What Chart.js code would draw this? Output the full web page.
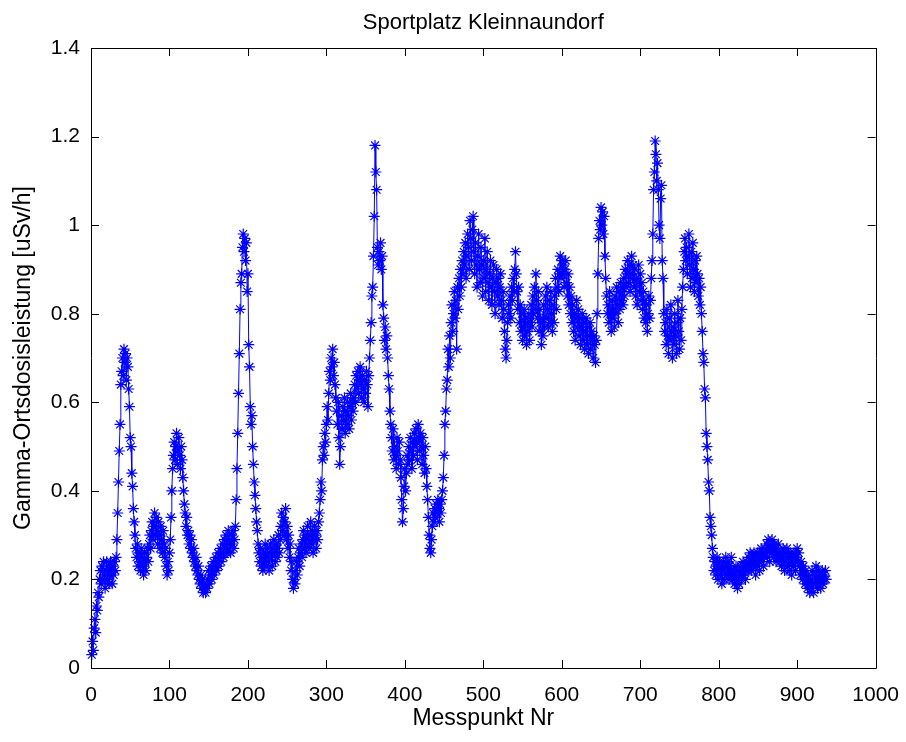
<!DOCTYPE html>
<html>
<head>
<meta charset="utf-8">
<script src="https://cdn.jsdelivr.net/npm/chart.js@4"></script>
<style>
  html, body { margin: 0; padding: 0; background: #fff; }
  canvas { display: block; }
</style>
</head>
<body>
<canvas id="chart" width="906" height="742"></canvas>
<script>
const chartTitle = 'Sportplatz Kleinnaundorf';
const xLabel = 'Messpunkt Nr';
const yLabel = 'Gamma-Ortsdosisleistung [uSv/h]';
const xTicks = [0, 100, 200, 300, 400, 500, 600, 700, 800, 900, 1000];
const xTickLabels = ['0', '100', '200', '300', '400', '500', '600', '700', '800', '900', '1000'];
const yTicks = [0, 0.2, 0.4, 0.6, 0.8, 1.0, 1.2, 1.4];
const yTickLabels = ['0', '0.2', '0.4', '0.6', '0.8', '1', '1.2', '1.4'];

const doseRate = [
  0.03,0.06,0.04,0.09,0.11,0.08,0.14,0.13,0.17,0.16,0.20,
  0.22,0.19,0.23,0.20,0.24,0.21,0.18,0.22,0.24,0.20,0.23,0.19,0.21,0.24,0.22,0.19,0.23,0.21,0.24,0.22,
  0.25,0.29,0.35,0.42,0.49,0.55,
  0.64,0.67,0.70,0.66,0.72,0.69,0.71,0.65,0.70,0.68,0.63,
  0.59,0.52,0.50,0.44,0.41,0.36,0.33,0.30,0.27,
  0.25,0.28,0.23,0.26,0.24,0.22,0.27,0.25,0.23,0.21,0.26,0.24,0.22,0.25,0.27,0.24,
  0.28,0.30,0.27,0.31,0.33,0.29,0.32,0.35,0.30,0.34,0.31,0.28,0.33,0.30,0.27,0.32,0.29,0.26,0.31,0.28,0.25,0.27,
  0.23,0.21,0.24,0.22,0.26,0.29,
  0.34,0.40,0.45,0.48,0.51,0.47,0.50,0.53,0.46,0.49,0.52,0.48,0.45,0.50,0.47,0.43,
  0.40,0.37,0.35,0.32,0.34,0.30,0.31,0.28,0.30,0.27,0.29,0.26,0.25,0.27,0.24,0.23,0.25,0.22,0.21,0.23,
  0.20,0.19,0.21,0.18,0.20,0.17,0.19,0.18,0.17,
  0.19,0.18,0.20,0.22,0.19,0.21,0.23,0.20,0.22,0.24,0.21,0.23,0.25,0.22,0.24,0.26,0.23,0.25,0.27,0.24,
  0.26,0.28,0.25,0.29,0.27,0.30,0.26,0.28,0.31,0.27,0.29,0.26,0.30,0.28,0.31,0.27,0.29,0.32,
  0.38,0.45,0.53,0.62,0.71,0.81,0.87,0.89,0.95,0.98,0.94,0.97,0.92,0.96,0.85,0.89,0.73,
  0.68,0.59,0.55,0.57,0.50,0.46,0.42,0.39,0.36,0.33,0.31,
  0.28,0.26,0.24,0.27,0.23,0.25,0.22,0.26,0.24,0.28,0.23,0.25,0.27,0.24,0.22,0.26,0.28,0.25,0.23,0.27,
  0.29,0.26,0.24,0.28,0.25,0.27,0.30,0.26,0.29,
  0.32,0.35,0.31,0.34,0.30,0.33,0.36,0.29,0.32,0.27,0.30,0.25,0.28,0.22,0.24,0.20,0.18,
  0.20,0.19,0.22,0.24,0.21,0.25,0.27,0.23,0.26,0.28,0.25,0.29,0.31,0.27,0.30,0.26,0.28,0.32,0.29,0.27,
  0.30,0.33,0.28,0.31,0.26,0.29,0.32,0.30,0.27,0.31,0.29,0.33,0.35,
  0.38,0.42,0.40,0.47,0.50,0.48,0.53,0.51,0.55,0.59,0.56,0.62,0.67,0.65,0.70,0.68,0.72,0.66,0.69,0.64,
  0.61,0.58,
  0.55,0.60,0.52,0.46,0.50,0.57,0.54,0.59,0.56,0.61,0.53,0.58,0.55,0.60,0.57,0.54,0.59,0.62,0.56,0.60,
  0.58,
  0.61,0.64,0.60,0.66,0.63,0.67,0.62,0.65,0.68,0.64,0.61,0.66,0.63,0.60,0.65,0.62,0.67,0.64,0.59,0.66,
  0.70,0.74,
  0.78,0.84,0.86,0.93,1.02,1.18,1.12,1.08,0.95,0.91,0.94,
  0.92,0.96,0.90,0.93,0.82,0.79,0.74,0.77,0.72,0.75,0.70,0.66,0.63,0.58,0.55,0.52,0.49,0.54,0.47,
  0.50,0.48,0.45,0.52,0.49,0.46,0.51,0.47,0.43,0.38,0.33,0.36,0.41,0.45,0.40,0.44,0.48,0.46,0.50,0.47,
  0.52,0.49,0.45,0.51,0.48,0.53,0.50,0.54,0.51,0.47,0.55,0.52,0.49,0.53,0.50,0.46,0.52,0.48,0.44,0.50,
  0.45,0.41,0.38,
  0.34,0.30,0.27,0.26,0.29,0.32,0.35,0.33,0.36,0.34,0.37,0.35,0.38,0.36,0.33,0.37,0.35,0.38,0.40,0.43,
  0.48,0.55,
  0.58,0.63,0.65,0.72,0.68,0.75,0.70,0.78,0.82,0.76,0.80,0.85,0.79,0.83,0.72,0.86,0.81,0.88,0.84,0.90,
  0.86,0.92,
  0.89,0.94,0.91,0.96,0.88,0.93,0.98,0.95,0.90,1.01,0.97,0.92,0.99,1.02,0.94,0.89,0.96,0.91,0.86,0.93,
  0.98,0.90,0.87,0.95,0.91,0.84,0.92,0.88,0.97,0.85,0.90,0.94,0.87,0.83,0.89,0.92,0.86,0.82,0.88,0.91,
  0.85,0.80,0.87,0.90,0.84,0.88,0.82,0.86,0.89,0.83,0.79,0.85,0.81,0.76,
  0.72,0.70,0.74,0.78,0.82,0.80,0.84,0.79,0.86,0.83,0.88,0.85,0.90,0.94,0.89,0.85,0.81,0.86,0.78,0.82,
  0.76,0.80,0.74,0.77,0.81,0.75,0.79,0.73,0.78,
  0.76,0.80,0.74,0.78,0.82,0.77,0.84,0.80,0.86,0.81,0.89,0.83,0.79,0.85,0.76,0.81,0.78,0.73,0.79,0.75,
  0.82,0.77,0.84,0.79,0.86,0.81,0.77,0.83,0.78,0.85,0.80,0.76,0.82,0.78,0.84,0.88,0.81,0.86,0.90,0.85,
  0.89,
  0.93,0.88,0.92,0.89,0.91,0.86,0.90,0.92,0.87,0.84,0.89,0.82,0.86,0.80,0.84,
  0.78,0.82,0.76,0.80,0.74,0.79,0.83,0.77,0.81,0.75,0.79,0.73,0.77,0.80,0.74,0.78,0.72,0.76,0.79,0.73,
  0.77,0.71,0.75,0.78,0.72,0.76,0.74,0.70,0.75,0.73,0.69,0.74,0.80,
  0.89,0.97,1.01,0.99,1.04,1.00,1.03,0.98,1.02,0.93,0.88,0.84,0.80,
  0.82,0.78,0.85,0.80,0.76,0.83,0.79,0.81,0.77,0.84,0.80,0.86,0.82,0.78,0.85,0.81,0.87,0.83,
  0.86,0.82,0.88,0.84,0.90,0.86,0.89,0.92,0.87,0.91,0.85,0.89,0.93,0.88,0.91,0.86,0.90,0.84,0.88,0.82,
  0.87,0.91,0.85,0.89,0.83,0.87,0.81,0.85,0.79,
  0.83,0.78,0.82,0.76,0.80,0.84,0.79,0.83,0.88,
  0.92,0.98,1.08,1.12,1.19,1.16,1.10,1.14,1.08,1.00,0.97,1.06,1.09,0.92,0.88,0.80,0.76,
  0.78,0.73,0.81,0.75,0.71,0.79,0.74,0.82,0.76,0.70,0.77,0.73,0.80,0.75,0.71,0.78,0.83,0.76,0.72,0.79,
  0.74,0.81,0.86,0.90,0.94,
  0.97,0.92,0.95,0.89,0.93,0.98,0.91,0.86,0.94,0.88,0.96,0.90,0.85,0.92,0.87,0.93,0.89,0.84,0.88,0.82,
  0.86,
  0.80,0.76,0.71,0.69,0.63,0.61,0.53,0.50,0.47,0.42,0.40,0.34,0.32,0.30,0.27,0.25,
  0.22,0.24,0.21,0.23,0.25,0.20,0.22,0.24,0.21,0.23,0.19,0.22,0.24,0.20,0.23,0.25,0.21,0.22,0.24,0.20,
  0.23,0.21,0.25,0.22,
  0.20,0.22,0.19,0.21,0.23,0.20,0.18,0.22,0.19,0.21,0.23,0.20,0.22,0.24,0.21,0.23,0.20,0.22,
  0.24,0.22,0.25,0.23,0.26,0.24,0.22,0.25,0.23,0.26,0.24,0.21,0.25,0.23,0.26,0.24,0.22,0.25,0.27,0.24,
  0.26,0.23,0.25,0.27,
  0.26,0.28,0.25,0.29,0.27,0.24,0.28,0.26,0.29,0.27,0.25,0.28,0.26,0.24,0.27,0.25,0.28,0.26,
  0.24,0.26,0.23,0.25,0.27,0.24,0.22,0.26,0.24,0.27,0.23,0.25,0.22,0.26,0.24,0.21,0.25,0.23,0.26,0.24,
  0.22,0.25,0.27,0.24,0.26,
  0.23,0.21,0.24,0.22,0.20,0.23,0.21,0.19,0.22,0.20,0.18,0.21,0.19,0.17,
  0.20,0.18,0.22,0.19,0.17,0.21,0.19,0.23,0.20,0.18,0.22,0.19,0.21,0.18,0.20,0.22,0.19,0.21,0.20,0.22,
  0.20
];

const points = doseRate.map((v, i) => ({ x: i + 1, y: v }));

const fontFamily = '"Liberation Sans", Arial, Helvetica, sans-serif';
Chart.defaults.font.family = fontFamily;
Chart.defaults.color = '#000';

// Rahmen, nach innen zeigende Ticks und Titel über der Achse wie in MATLAB
const matlabAxes = {
  id: 'matlabAxes',
  afterDatasetsDraw(chart) {
    const { ctx, chartArea: a, scales: { x, y } } = chart;
    const len = 8;
    ctx.save();
    ctx.strokeStyle = '#000';
    ctx.lineWidth = 1;
    ctx.beginPath();
    ctx.rect(Math.round(a.left) + 0.5, Math.round(a.top) + 0.5,
      Math.round(a.right - a.left), Math.round(a.bottom - a.top));
    xTicks.forEach(v => {
      const px = Math.round(x.getPixelForValue(v)) + 0.5;
      ctx.moveTo(px, a.bottom); ctx.lineTo(px, a.bottom - len);
      ctx.moveTo(px, a.top); ctx.lineTo(px, a.top + len);
    });
    yTicks.forEach(v => {
      const py = Math.round(y.getPixelForValue(v)) + 0.5;
      ctx.moveTo(a.left, py); ctx.lineTo(a.left + len, py);
      ctx.moveTo(a.right, py); ctx.lineTo(a.right - len, py);
    });
    ctx.stroke();

    ctx.fillStyle = '#000';
    ctx.font = '22px ' + fontFamily;
    ctx.textAlign = 'center';
    ctx.textBaseline = 'middle';
    ctx.fillText(chartTitle, (a.left + a.right) / 2, 23);
    ctx.restore();
  }
};

new Chart(document.getElementById('chart'), {
  type: 'line',
  data: {
    datasets: [{
      data: points,
      borderColor: '#0000ff',
      borderWidth: 1,
      backgroundColor: '#0000ff',
      pointStyle: 'star',
      pointRadius: 5.5,
      pointBorderWidth: 1.2,
      pointBorderColor: '#0000ff',
      tension: 0,
      clip: 6
    }]
  },
  options: {
    responsive: false,
    animation: false,
    devicePixelRatio: 1,
    layout: { padding: { left: 0, right: 28, top: 48, bottom: 0 } },
    plugins: {
      legend: { display: false },
      tooltip: { enabled: false },
      title: { display: false }
    },
    scales: {
      x: {
        type: 'linear',
        min: 0,
        max: 1000,
        afterBuildTicks: s => { s.ticks = xTicks.map(v => ({ value: v })); },
        afterFit: s => { s.height = 74; },
        grid: { display: false },
        border: { display: false },
        ticks: { font: { size: 21 }, padding: 7, maxRotation: 0, callback: (v, i) => xTickLabels[i] },
        title: { display: true, text: xLabel, font: { size: 23 }, padding: { top: 0, bottom: 10 } }
      },
      y: {
        min: 0,
        max: 1.4,
        afterBuildTicks: s => { s.ticks = yTicks.map(v => ({ value: v })); },
        afterFit: s => { s.width = 91; },
        grid: { display: false },
        border: { display: false },
        ticks: { font: { size: 21 }, padding: 3, callback: (v, i) => yTickLabels[i] },
        title: { display: true, text: yLabel, font: { size: 23 }, padding: { top: 10, bottom: 0 } }
      }
    }
  },
  plugins: [matlabAxes]
});
</script>
</body>
</html>
